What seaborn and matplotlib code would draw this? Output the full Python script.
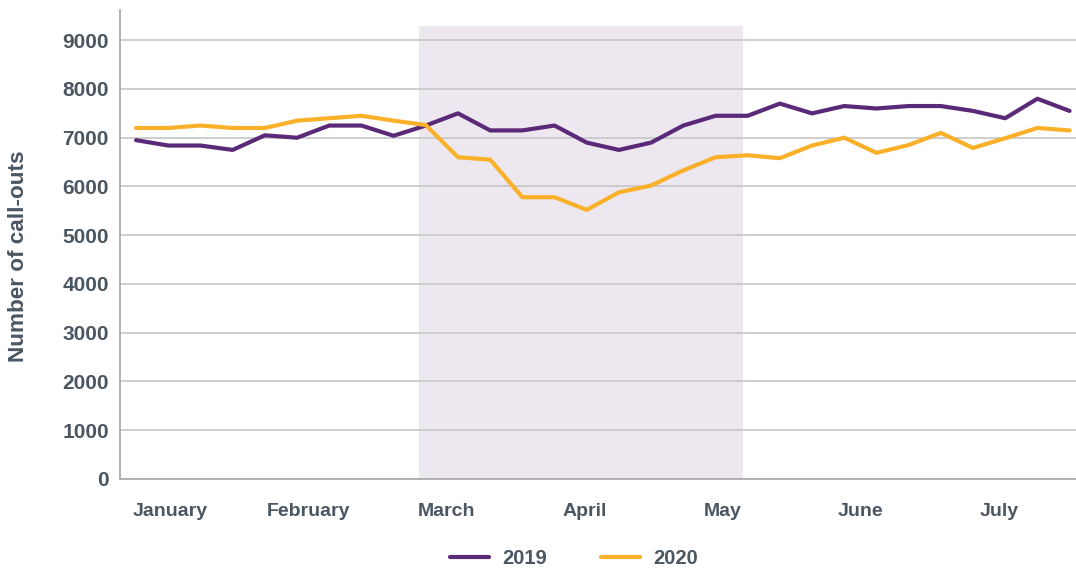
import numpy as np
import pandas as pd
import matplotlib
matplotlib.use("Agg")
import matplotlib.pyplot as plt
import seaborn as sns

# Weekly call-outs, Jan-Jul
weeks = list(range(30))
calls_2019 = [6950, 6840, 6840, 6750, 7050, 7000, 7250, 7250, 7040, 7250,
              7500, 7150, 7150, 7250, 6900, 6750, 6900, 7250, 7450, 7450,
              7700, 7500, 7650, 7600, 7650, 7650, 7550, 7400, 7800, 7550]
calls_2020 = [7200, 7200, 7250, 7200, 7200, 7350, 7400, 7450, 7350, 7260,
              6600, 6550, 5780, 5780, 5520, 5880, 6020, 6330, 6600, 6640,
              6580, 6840, 7000, 6690, 6850, 7100, 6790, 6990, 7200, 7150]
months = ["January", "February", "March", "April", "May", "June", "July"]
month_pos = [1.06, 5.35, 9.64, 13.93, 18.22, 22.51, 26.8]
shade_span = (8.79, 18.85)

COLORS = {"2019": "#5a2a78", "2020": "#fbb02a"}
TEXT = "#4a5662"

df = pd.DataFrame({
    "week": weeks * 2,
    "calls": calls_2019 + calls_2020,
    "year": ["2019"] * len(weeks) + ["2020"] * len(weeks),
})

sns.set_style("white")
plt.rcParams["font.family"] = ["Liberation Sans", "DejaVu Sans"]

fig = plt.figure(figsize=(10.76, 5.70), dpi=100)
ax = fig.add_axes([120 / 1076, 91 / 570, 1 - 120 / 1076, 469 / 570])

# lockdown period shading
ax.fill_between(shade_span, 0, 9290, color="#ede8f0", lw=0, zorder=0.2)

sns.lineplot(data=df, x="week", y="calls", hue="year", palette=COLORS,
             linewidth=3, ax=ax, legend=True, zorder=3)

ax.set_xlim(-0.5, 29.2)
ax.set_ylim(0, 9620)
ax.set_yticks(np.arange(0, 9001, 1000))
ax.set_xticks(month_pos)
ax.set_xticklabels(months)
ax.yaxis.grid(True, color="#c6c6c6", lw=1.2)
ax.set_axisbelow(True)

for s in ["top", "right"]:
    ax.spines[s].set_visible(False)
ax.spines["left"].set_color("#a6a6a6")
ax.spines["bottom"].set_color("#a6a6a6")
ax.spines["left"].set_linewidth(1.2)
ax.spines["bottom"].set_linewidth(1.2)

ax.tick_params(axis="x", length=0, pad=17, labelsize=14, labelcolor=TEXT)
ax.tick_params(axis="y", length=0, pad=8, labelsize=15, labelcolor=TEXT)
for lab in ax.get_xticklabels() + ax.get_yticklabels():
    lab.set_fontweight("bold")

ax.set_xlabel("")
ax.set_ylabel("Number of call-outs", fontsize=16.2, fontweight="bold", color=TEXT, labelpad=24)
ax.yaxis.label.set_y(0.476)

handles, labels = ax.get_legend_handles_labels()
ax.legend(handles, labels, loc="center", bbox_to_anchor=(574 / 1076, 11 / 570),
          bbox_transform=fig.transFigure, ncol=2, frameon=False, handlelength=1.95,
          handletextpad=0.65, columnspacing=2.65,
          prop={"weight": "bold", "size": 14.5}, labelcolor=TEXT)

fig.savefig("out.png", dpi=100)
